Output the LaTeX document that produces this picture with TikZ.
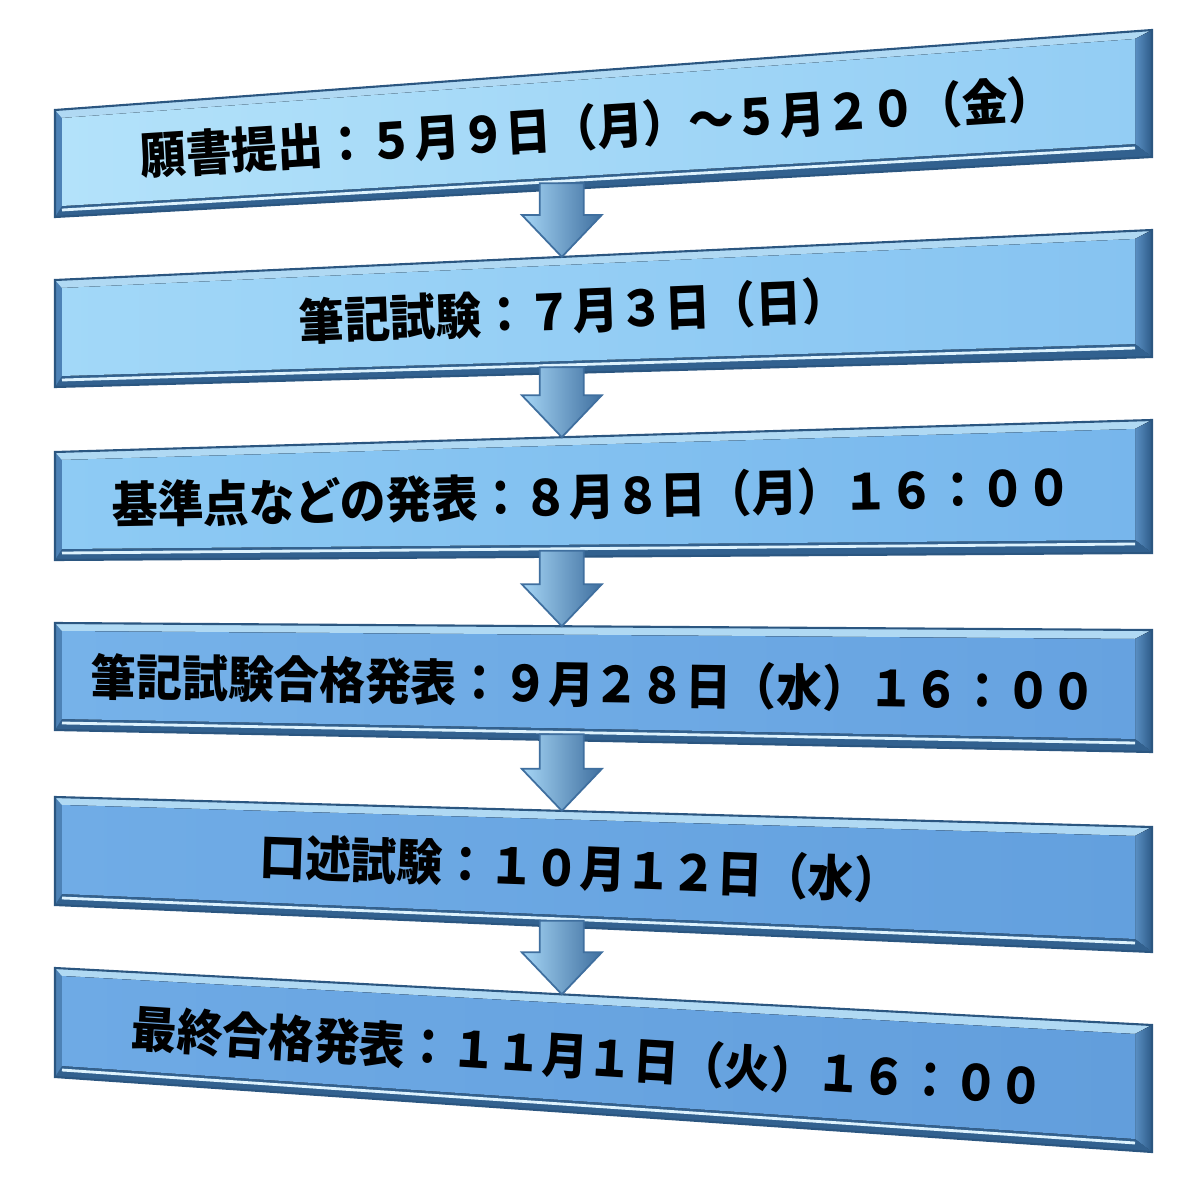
\documentclass[tikz,border=0pt]{standalone}
\usepackage{fontspec}
\usetikzlibrary{calc}
\newfontfamily\jpfont{Noto Sans CJK JP}
\definecolor{edgeBlue}{HTML}{4D82B6}
\definecolor{lineBlue}{HTML}{2B5680}
\definecolor{bevelTop}{HTML}{B0D9F3}
\definecolor{bevelDark}{HTML}{2D5B88}
\definecolor{bevelMid}{HTML}{5A8FC3}
\definecolor{glint}{HTML}{DDF2FD}
\definecolor{faceA1}{HTML}{B3E2FA}\definecolor{faceB1}{HTML}{93CDF4}
\definecolor{faceA2}{HTML}{A2D8F8}\definecolor{faceB2}{HTML}{86C3F1}
\definecolor{faceA3}{HTML}{8ECBF4}\definecolor{faceB3}{HTML}{77B6EC}
\definecolor{faceA4}{HTML}{76B2E9}\definecolor{faceB4}{HTML}{66A2E0}
\definecolor{faceA5}{HTML}{70ACE6}\definecolor{faceB5}{HTML}{63A0DE}
\definecolor{faceA6}{HTML}{6EAAE5}\definecolor{faceB6}{HTML}{629EDC}
\definecolor{arrowLight}{HTML}{A6D6F6}
\definecolor{arrowDark}{HTML}{3F6F9F}
\tikzstyle{panelEdge} = [fill=edgeBlue]
\tikzstyle{panelTop} = [fill=bevelTop]
\tikzstyle{panelRight} = [left color=bevelMid, right color=bevelDark]
\tikzstyle{panelBottom} = [fill=bevelDark!85!edgeBlue]
\tikzstyle{panelLine} = [draw=lineBlue, line width=0.6pt, line join=miter]
\tikzstyle{panelGlint} = [draw=glint, line width=0.8pt]
\tikzstyle{stepText} = [text=black, inner sep=0pt, yscale=1.08,
	font=\jpfont\bfseries\fontsize{13}{15}\selectfont]
\tikzstyle{flowArrow} = [left color=arrowLight, right color=arrowDark,
	draw=arrowDark, line width=0.5pt, line join=miter]

% one bevelled panel: name, y top-left, y bottom-left, y top-right, y bottom-right, face colours
\newcommand{\stepPanel}[7]{%
	\coordinate (#1tl) at (55,#2);
	\coordinate (#1bl) at (55,#3);
	\coordinate (#1tr) at (1152,#4);
	\coordinate (#1br) at (1152,#5);
	\coordinate (#1itl) at ($(#1tl)+(7,8)$);
	\coordinate (#1ibl) at ($(#1bl)+(7,-11)$);
	\coordinate (#1itr) at ($(#1tr)+(-17,9)$);
	\coordinate (#1ibr) at ($(#1br)+(-17,-13)$);
	\fill[panelEdge] (#1tl) -- (#1tr) -- (#1br) -- (#1bl) -- cycle;
	\fill[panelTop] (#1tl) -- (#1tr) -- (#1itr) -- (#1itl) -- cycle;
	\fill[panelRight] (#1tr) -- (#1br) -- (#1ibr) -- (#1itr) -- cycle;
	\fill[panelBottom] (#1bl) -- (#1br) -- (#1ibr) -- (#1ibl) -- cycle;
	\fill[left color=#6, right color=#7] (#1itl) -- (#1itr) -- (#1ibr) -- (#1ibl) -- cycle;
	\draw[panelGlint] ($(#1ibl)+(0,4)$) -- ($(#1ibr)+(0,4)$);
	\draw[panelLine] (#1tl) -- (#1tr) -- (#1br) -- (#1bl) -- cycle;
	\coordinate (#1s) at ($(#1bl)!0.462!(#1br)$);
	\coordinate (#1n) at ($(#1tl)!0.462!(#1tr)$);
}
% block arrow from the bottom of one panel to the top of the next
\newcommand{\stepArrow}[2]{%
	\filldraw[flowArrow] ($(#1)+(-22,-6)$) -- ($(#2)+(-22,-42)$) -- ($(#2)+(-40,-42)$)
		-- (#2) -- ($(#2)+(40,-42)$) -- ($(#2)+(22,-42)$) -- ($(#1)+(22,-6)$) -- cycle;
}

\begin{document}
\begin{tikzpicture}[x=0.01cm, y=-0.01cm]
	\fill[white] (0,0) rectangle (1200,1185);
	\useasboundingbox (0,0) rectangle (1200,1185);

	\stepPanel{p1}{110}{217}{30}{157}{faceA1}{faceB1}
	\stepPanel{p2}{280}{387}{230}{357}{faceA2}{faceB2}
	\stepPanel{p3}{452}{560}{420}{553}{faceA3}{faceB3}
	\stepPanel{p4}{623}{730}{630}{752}{faceA4}{faceB4}
	\stepPanel{p5}{797}{905}{827}{952}{faceA5}{faceB5}
	\stepPanel{p6}{968}{1077}{1025}{1152}{faceA6}{faceB6}

	\node (Apply) at (597,127) [stepText, rotate=3.4] {願書提出：５月９日（月）～５月２０（金）};
	\node (Written) at (573,311) [stepText, rotate=2.1] {筆記試験：７月３日（日）};
	\node (Score) at (592,496) [stepText, rotate=1.0] {基準点などの発表：８月８日（月）１６：００};
	\node (WrittenPass) at (594,684) [stepText, rotate=-0.8] {筆記試験合格発表：９月２８日（水）１６：００};
	\node (Oral) at (580,868) [stepText, rotate=-2.0] {口述試験：１０月１２日（水）};
	\node (FinalPass) at (588,1057) [stepText, rotate=-3.4] {最終合格発表：１１月１日（火）１６：００};

	\stepArrow{p1s}{p2n}
	\stepArrow{p2s}{p3n}
	\stepArrow{p3s}{p4n}
	\stepArrow{p4s}{p5n}
	\stepArrow{p5s}{p6n}
\end{tikzpicture}
\end{document}
